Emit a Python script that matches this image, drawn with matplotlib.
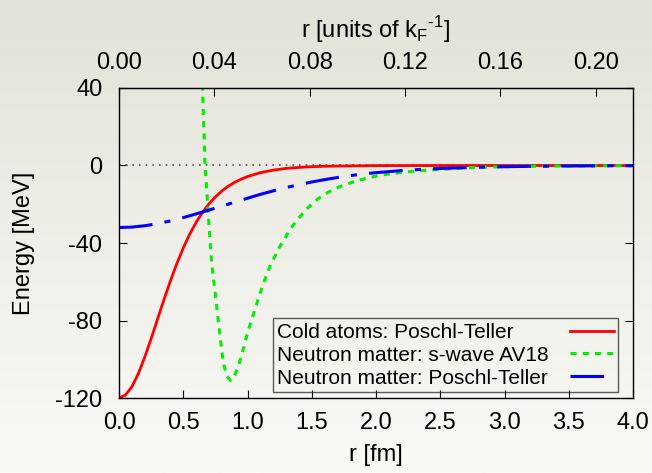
import numpy as np
import matplotlib
matplotlib.use("Agg")
import matplotlib.pyplot as plt
from matplotlib.colors import LinearSegmentedColormap

plt.rcParams['font.family'] = ['Liberation Sans', 'DejaVu Sans']
plt.rcParams['axes.unicode_minus'] = False

# values: r in fm, energies in MeV
r_cold = [0.0, 0.05, 0.1, 0.15, 0.2, 0.25, 0.3, 0.35, 0.4, 0.45, 0.5, 0.55, 0.6, 0.65, 0.7,
          0.75, 0.8, 0.85, 0.9, 0.95, 1.0, 1.1, 1.2, 1.3, 1.4, 1.5, 1.6, 1.8, 2.0, 2.5, 3.0, 4.0]
v_cold = [-120.0, -118.5, -114.2, -107.5, -99.0, -89.4, -79.3, -69.2, -59.6, -50.7, -42.6,
          -35.5, -29.4, -24.2, -19.8, -16.2, -13.2, -10.7, -8.7, -7.1, -5.7, -3.7, -2.4,
          -1.5, -1.0, -0.6, -0.4, -0.2, -0.07, -0.01, 0.0, 0.0]

r_av18 = [0.58, 0.62, 0.65, 0.67, 0.69, 0.703, 0.721, 0.752, 0.781, 0.812, 0.84, 0.869,
          0.90, 0.936, 0.97, 1.006, 1.05, 1.089, 1.13, 1.175, 1.25, 1.336, 1.40, 1.453,
          1.52, 1.598, 1.68, 1.767, 1.85, 1.927, 2.03, 2.21, 2.3, 2.5, 2.75, 3.0, 3.3,
          3.6, 4.0]
v_av18 = [200.0, 100.0, 40.0, 0.0, -20.0, -33.3, -50.5, -67.7, -85.0, -102.0, -108.8,
          -111.0, -108.6, -102.0, -94.0, -85.0, -76.0, -67.7, -59.8, -52.0, -42.0, -32.5,
          -27.0, -23.0, -18.6, -14.9, -12.0, -9.7, -7.9, -6.6, -5.0, -3.5, -2.9, -2.0,
          -1.0, -0.6, -0.35, -0.2, -0.1]

r_nm = [0.0, 0.1, 0.2, 0.3, 0.4, 0.5, 0.6, 0.7, 0.8, 0.9, 1.0, 1.1, 1.2, 1.3, 1.4, 1.5,
        1.6, 1.7, 1.8, 1.9, 2.0, 2.2, 2.4, 2.6, 2.8, 3.0, 3.2, 3.4, 3.6, 3.8, 4.0]
v_nm = [-32.0, -31.8, -31.1, -30.0, -28.6, -26.9, -25.0, -23.0, -21.0, -18.9, -16.9,
        -14.9, -13.1, -11.4, -9.9, -8.5, -7.3, -6.2, -5.2, -4.4, -3.7, -2.6, -1.8,
        -1.3, -0.9, -0.63, -0.44, -0.30, -0.21, -0.14, -0.10]

fm_per_kf = 18.55  # 1/kF in fm, from the top axis
top_ticks = [0.00, 0.04, 0.08, 0.12, 0.16, 0.20]

fig = plt.figure(figsize=(6.52, 4.73), dpi=100)

# background gradient
bg = fig.add_axes([0, 0, 1, 1], zorder=-10)
cmap = LinearSegmentedColormap.from_list('bg', ['#e2e2d8', '#efefe8', '#f9f9f6'])
bg.imshow(np.linspace(0, 1, 256).reshape(-1, 1), aspect='auto', cmap=cmap,
          extent=[0, 1, 0, 1])
bg.axis('off')

W, H = 652, 473
ax = fig.add_axes([119 / W, 1 - 398 / H, 514 / W, 310 / H])
ax.patch.set_alpha(0)

ax.plot([0, 4], [0, 0], color='#555555', lw=1.2, ls=(0, (1, 3)))
l1, = ax.plot(r_cold, v_cold, color='#ff0000', lw=2, label='Cold atoms: Poschl-Teller')
l2, = ax.plot(r_av18, v_av18, color='#00ee00', lw=2.2, ls=(0, (2, 2)),
              label='Neutron matter: s-wave AV18')
l3, = ax.plot(r_nm, v_nm, color='#0000ff', lw=2.2, ls=(0, (11, 4, 2, 4)),
              label='Neutron matter: Poschl-Teller')

ax.set_xlim(0, 4)
ax.set_ylim(-120, 40)
ax.set_xticks(np.arange(0, 4.01, 0.5))
ax.set_xticklabels(['%.1f' % t for t in np.arange(0, 4.01, 0.5)])
ax.set_yticks([-120, -80, -40, 0, 40])
ax.tick_params(axis='x', direction='in', length=6, labelsize=17, pad=10, top=False)
ax.tick_params(axis='y', direction='in', length=6, labelsize=17, pad=12, right=True)
ax.set_xlabel('r [fm]', fontsize=17, labelpad=7)
ax.set_ylabel('Energy [MeV]', fontsize=17, labelpad=14.5)
for s in ax.spines.values():
    s.set_linewidth(1.0)

top = ax.secondary_xaxis('top', functions=(lambda x: x / fm_per_kf, lambda k: k * fm_per_kf))
top.set_xticks(top_ticks)
top.set_xticklabels(['%.2f' % t for t in top_ticks])
top.tick_params(direction='in', length=6, labelsize=17, pad=10)
top.set_xlabel(r'r [units of k$_\mathregular{F}$$^\mathregular{‐1}$]', fontsize=17, labelpad=10)

leg = ax.legend(handles=[l1, l2, l3], loc='lower right', bbox_to_anchor=(0.971, 0.019),
                borderaxespad=0, markerfirst=False, fontsize=15, handlelength=2.1,
                handletextpad=1.0, labelspacing=0.18, borderpad=0.22, fancybox=False,
                edgecolor='#333333')
leg.get_frame().set_facecolor('none')
leg.get_frame().set_linewidth(1.0)

# left-align legend text (gnuplot style): widen the gap for the shorter labels
fig.canvas.draw()
renderer = fig.canvas.get_renderer()
widths = [t.get_window_extent(renderer).width for t in leg.texts]
column = leg._legend_handle_box.get_children()[0]
for row, w in zip(column.get_children(), widths):
    row.sep += (max(widths) - w) * 72 / fig.dpi

fig.savefig('out.png', dpi=100)
